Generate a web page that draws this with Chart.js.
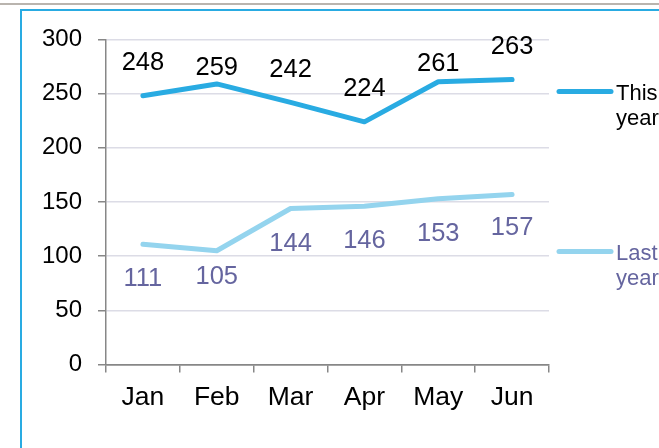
<!DOCTYPE html>
<html>
<head>
<meta charset="utf-8">
<script src="https://cdn.jsdelivr.net/npm/chart.js@4"></script>
<style>
  html, body { margin: 0; padding: 0; background: #fff; overflow: hidden; }
  #topline { position: absolute; left: 0; top: 3px; width: 659px; height: 2px; background: #b9b4ae; }
  #frame { position: absolute; left: 20px; top: 9px; width: 700px; height: 500px; border: 2px solid #29abe2; }
  #chart { position: absolute; left: 0; top: 0; }
</style>
</head>
<body>
<div id="topline"></div>
<div id="frame"></div>
<canvas id="chart" width="659" height="448"></canvas>
<script>
const months = ["Jan", "Feb", "Mar", "Apr", "May", "Jun"];
const thisYear = [248, 259, 242, 224, 261, 263];
const lastYear = [111, 105, 144, 146, 153, 157];
const yTicks = [0, 50, 100, 150, 200, 250, 300];
const seriesNames = [["This", "year"], ["Last", "year"]];

const FONT = "'Liberation Sans', Arial, sans-serif";
const BLUE = "#29abe2";
const LIGHT = "#94d4ee";
const PURPLE = "#65659f";
const AXIS = "#878787";
const GRID = "#dcdce6";

// label offsets from each point (Excel placed a couple of them closer)
const labelShift = [
  [-33, -16, -32, -33, -18, -33],
  [35, 26, 35, 35, 35, 34]
];
const labelColors = ["#000", PURPLE];

const valueLabels = {
  id: "valueLabels",
  afterDatasetsDraw(chart) {
    const ctx = chart.ctx;
    ctx.save();
    ctx.font = "25.5px " + FONT;
    ctx.textAlign = "center";
    ctx.textBaseline = "middle";
    chart.data.datasets.forEach((ds, di) => {
      const meta = chart.getDatasetMeta(di);
      ctx.fillStyle = labelColors[di];
      meta.data.forEach((pt, i) => {
        ctx.fillText(String(ds.data[i]), pt.x, pt.y + labelShift[di][i]);
      });
    });
    ctx.restore();
  }
};

const sideLegend = {
  id: "sideLegend",
  afterDraw(chart) {
    const ctx = chart.ctx;
    const rows = [
      { y: 91.5, color: BLUE, text: "#000" },
      { y: 251.5, color: LIGHT, text: PURPLE }
    ];
    ctx.save();
    ctx.lineCap = "round";
    ctx.lineWidth = 5;
    ctx.font = "22px " + FONT;
    ctx.textAlign = "left";
    ctx.textBaseline = "alphabetic";
    rows.forEach((r, i) => {
      ctx.strokeStyle = r.color;
      ctx.beginPath();
      ctx.moveTo(559, r.y);
      ctx.lineTo(611, r.y);
      ctx.stroke();
      ctx.fillStyle = r.text;
      ctx.fillText(seriesNames[i][0], 616, r.y + 8);
      ctx.fillText(seriesNames[i][1], 616, r.y + 33);
    });
    ctx.restore();
  }
};

new Chart(document.getElementById("chart"), {
  type: "line",
  data: {
    labels: months,
    datasets: [
      {
        label: seriesNames[0].join(" "),
        data: thisYear,
        borderColor: BLUE,
        borderWidth: 5,
        borderCapStyle: "round",
        borderJoinStyle: "round",
        pointRadius: 0,
        tension: 0
      },
      {
        label: seriesNames[1].join(" "),
        data: lastYear,
        borderColor: LIGHT,
        borderWidth: 5,
        borderCapStyle: "round",
        borderJoinStyle: "round",
        pointRadius: 0,
        tension: 0
      }
    ]
  },
  options: {
    responsive: false,
    animation: false,
    layout: {
      padding: { top: 39.5, right: 110, left: 0, bottom: 0 }
    },
    scales: {
      x: {
        offset: true,
        grid: {
          offset: true,
          drawOnChartArea: false,
          tickLength: 8,
          tickColor: AXIS,
          lineWidth: 1.5
        },
        border: { color: AXIS, width: 1.5 },
        ticks: {
          color: "#000",
          padding: 9,
          font: { family: FONT, size: 26.5 }
        },
        afterFit: s => { s.height = 83.5; }
      },
      y: {
        min: yTicks[0],
        max: yTicks[yTicks.length - 1],
        afterBuildTicks: s => { s.ticks = yTicks.map(v => ({ value: v })); },
        grid: {
          color: ctx => (ctx.tick && ctx.tick.value === 0 ? AXIS : GRID),
          lineWidth: 1.5,
          tickLength: 8,
          tickColor: AXIS
        },
        border: { color: AXIS, width: 1.5 },
        ticks: {
          color: "#000",
          padding: 16,
          font: { family: FONT, size: 24 }
        },
        afterFit: s => { s.width = 106; }
      }
    },
    plugins: {
      legend: { display: false },
      tooltip: { enabled: false }
    }
  },
  plugins: [valueLabels, sideLegend]
});
</script>
</body>
</html>
